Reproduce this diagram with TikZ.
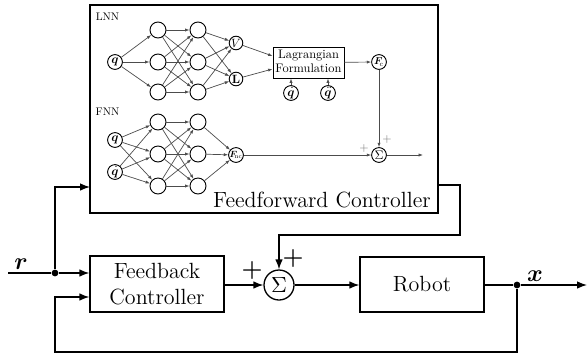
\documentclass[tikz,border=0pt]{standalone}
\usepackage{bm}
\usepackage{graphicx}
\usetikzlibrary{arrows.meta,calc}

% small text is a scaled copy of the 10pt design, not the wider small design sizes
\newcommand{\shrink}[2]{\scalebox{#1}{#2}}

\tikzset{
  main/.style={line width=0.65pt},
  marrow/.style={main,-{Latex[length=5pt,width=3.8pt]}},
  block/.style={main,draw,fill=white,align=center,inner sep=0pt,
    font=\fontsize{11}{13}\selectfont},
  sumbig/.style={main,draw,circle,minimum size=15pt,inner sep=0pt,
    font=\fontsize{11}{12}\selectfont},
  dot/.style={circle,fill,inner sep=0pt,minimum size=3.4pt},
  nn/.style={line width=0.35pt,draw=black!70},
  nnarrow/.style={nn,-{Latex[length=2.2pt,width=1.6pt]}},
  neuron/.style={line width=0.45pt,draw,circle,fill=white,minimum size=8pt,inner sep=0pt},
  iobj/.style={line width=0.45pt,draw,circle,fill=white,minimum size=7.4pt,inner sep=0pt},
  tinylbl/.style={inner sep=0pt},
  smallplus/.style={text=black!55,inner sep=0pt},
}

\begin{document}
\begin{tikzpicture}[x={(0.5pt,0)},y={(0,-0.5pt)}]
\useasboundingbox (0,0) rectangle (587,354);

% ---------------- feedforward controller frame ----------------
\draw[line width=0.85pt] (90,5) rectangle (438,213);
\coordinate (ffin) at (90,187);
\coordinate (ffout) at (438,185);
\node[font=\fontsize{11}{12}\selectfont,anchor=base] (fflbl) at (322,207) {Feedforward Controller};

% ---------------- LNN ----------------
\node[tinylbl] (lnnlbl) at (107.5,17) {\shrink{0.55}{LNN}};
\node[iobj] (lq) at (115,62) {\shrink{0.62}{$\bm{q}$}};
\foreach \i/\yy in {1/30,2/62,3/92}{
  \node[neuron] (la\i) at (158,\yy) {};
  \node[neuron] (lb\i) at (198,\yy) {};
}
\node[iobj,minimum size=6.8pt] (lv) at (236,43) {\shrink{0.6}{$V$}};
\node[iobj,minimum size=6.8pt] (ll) at (236,79) {\shrink{0.6}{$\mathbf{L}$}};
\foreach \i in {1,2,3}{
  \draw[nnarrow] (lq) -- (la\i);
  \foreach \j in {1,2,3}{\draw[nnarrow] (la\i) -- (lb\j);}
  \draw[nnarrow] (lb\i) -- (lv);
  \draw[nnarrow] (lb\i) -- (ll);
}
\node[line width=0.45pt,draw,fill=white,minimum width=35.5pt,minimum height=15.5pt,
  inner sep=0pt] (lag) at (308.5,62.5)
  {\shrink{0.62}{\begin{tabular}{@{}c@{}}Lagrangian\\[-1pt]Formulation\end{tabular}}};
\draw[nnarrow] (lv) -- (lag.west|-0,56);
\draw[nnarrow] (ll) -- (lag.west|-0,69);
\node[iobj] (lqd) at (291,93) {\shrink{0.62}{$\dot{\bm{q}}$}};
\node[iobj] (lqdd) at (328,93) {\shrink{0.62}{$\ddot{\bm{q}}$}};
\draw[nnarrow] (lqd) -- (lqd|-lag.south);
\draw[nnarrow] (lqdd) -- (lqdd|-lag.south);
\node[iobj] (fc) at (379,62) {\shrink{0.5}{$\bm{F}_{\!\mathrm{c}}$}};
\draw[nnarrow] (lag) -- (fc);

% ---------------- FNN ----------------
\node[tinylbl] (fnnlbl) at (107.5,112) {\shrink{0.55}{FNN}};
\node[iobj] (fq) at (115,140) {\shrink{0.62}{$\bm{q}$}};
\node[iobj] (fqd) at (115,172) {\shrink{0.62}{$\dot{\bm{q}}$}};
\foreach \i/\yy in {1/122,2/154,3/186}{
  \node[neuron] (fa\i) at (158,\yy) {};
  \node[neuron] (fb\i) at (198,\yy) {};
}
\node[iobj] (fnc) at (236,155) {\shrink{0.45}{$\bm{F}_{\!\mathrm{nc}}$}};
\foreach \i in {1,2,3}{
  \draw[nnarrow] (fq) -- (fa\i);
  \draw[nnarrow] (fqd) -- (fa\i);
  \foreach \j in {1,2,3}{\draw[nnarrow] (fa\i) -- (fb\j);}
  \draw[nnarrow] (fb\i) -- (fnc);
}

% inner summation
\node[iobj] (isum) at (379,155) {\shrink{0.62}{$\Sigma$}};
\draw[nnarrow] (fc) -- (isum);
\draw[nnarrow] (fnc) -- (isum);
\coordinate (isout) at (423,155);
\draw[nnarrow] (isum) -- (isout);
\node[smallplus] (ip1) at (387,139) {\shrink{0.6}{$+$}};
\node[smallplus] (ip2) at (364,148) {\shrink{0.6}{$+$}};

% ---------------- main loop ----------------
\coordinate (rin) at (8,273);
\node[dot] (rdot) at (55,273) {};
\node[block,minimum width=67pt,minimum height=28pt] (fb) at (157,284) {Feedback\\Controller};
\node[sumbig] (sum) at (279,285) {$\Sigma$};
\node[block,minimum width=62pt,minimum height=27.5pt] (robot) at (422,284.5) {Robot};
\node[dot] (xdot) at (517,285) {};
\coordinate (xout) at (587,285);
\coordinate (bl) at (55,352);
\coordinate (br) at (517,352);

\node[font=\fontsize{11.5}{12}\selectfont] (rlbl) at (21,264) {$\bm{r}$};
\node[font=\fontsize{11.5}{12}\selectfont] (xlbl) at (535,276) {$\bm{x}$};
\node[font=\fontsize{12.5}{12}\selectfont,inner sep=0pt] (plusl) at (252,270) {$\bm{+}$};
\node[font=\fontsize{12.5}{12}\selectfont,inner sep=0pt] (plust) at (293,258) {$\bm{+}$};

\draw[main] (rin) -- (rdot);
\draw[marrow] (rdot) -- (fb.west|-rdot);
\draw[marrow] (rdot) -- (rdot|-ffin) -- (ffin);
\draw[marrow] (fb.east|-sum) -- (sum);
\draw[marrow] (sum) -- (robot.west|-sum);
\draw[main] (robot.east|-xdot) -- (xdot);
\draw[marrow] (xdot) -- (xout);
\draw[marrow] (xdot) -- (br) -- (bl) -- (55,297) -- (fb.west|-0,297);
\draw[marrow] (ffout) -- (460,185) -- (460,235) -- (sum.north|-0,235) -- (sum.north);
\end{tikzpicture}
\end{document}
